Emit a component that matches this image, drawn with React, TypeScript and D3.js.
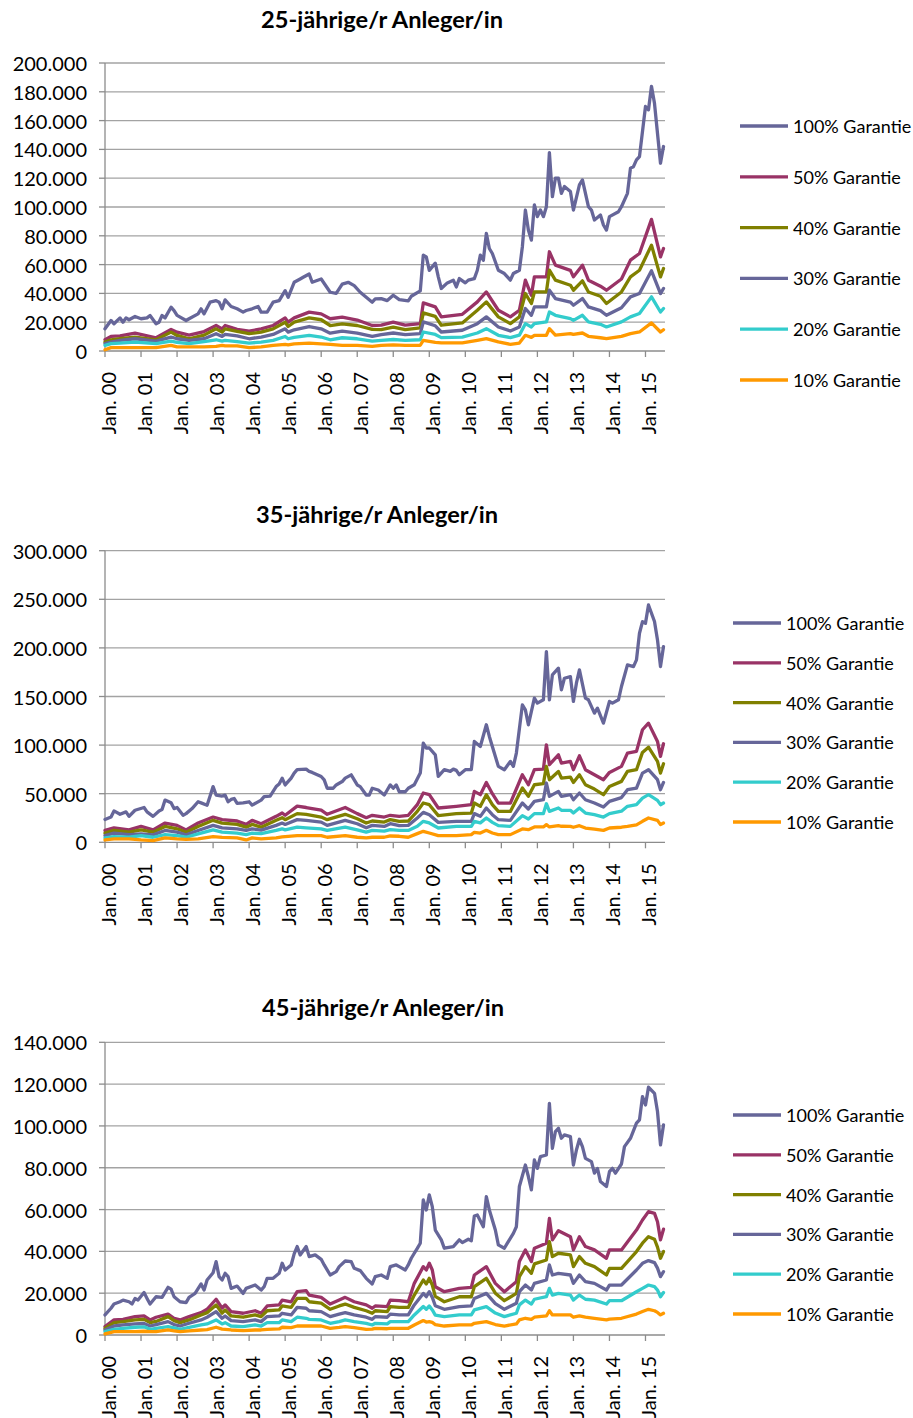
import React from 'react';
import * as d3 from 'd3';

// Monatsindex: 0 = Jan. 00 ... 186 = Jul. 15, Werte in Tausend
const yearLabels = ['Jan. 00', 'Jan. 01', 'Jan. 02', 'Jan. 03', 'Jan. 04', 'Jan. 05', 'Jan. 06', 'Jan. 07',
  'Jan. 08', 'Jan. 09', 'Jan. 10', 'Jan. 11', 'Jan. 12', 'Jan. 13', 'Jan. 14', 'Jan. 15'];
const seriesNames = ['100% Garantie', '50% Garantie', '40% Garantie', '30% Garantie', '20% Garantie', '10% Garantie'];
const seriesColors = ['#666699', '#993366', '#808000', '#666699', '#33cccc', '#ff9900'];

// 25-jährige/r
const months25 = [0,2,3,5,6,7,8,10,12,14,15,17,18,19,20,22,23,24,27,28,31,32,33,35,37,38,39,40,42,44,46,47,49,51,52,54,56,58,60,61,63,65,66,68,69,72,75,77,79,81,83,85,87,89,90,92,94,96,98,101,102,105,106,107,108,110,111,112,114,116,117,118,120,121,123,124,125,126,127,128,129,131,133,135,136,138,139,140,141,142,143,144,145,146,147,148,149,150,151,152,153,155,156,158,159,161,162,163,165,166,167,168,171,172,174,175,176,177,178,180,181,182,183,185,186];
const g100_25 = [15.4,21.2,18.9,23,20,23,21.7,24,22.4,23,24.7,18.9,20,24.7,23,30.4,28.1,24.7,21.2,22.4,25.8,29.3,25.8,33.9,35,33.9,29.3,35.5,30.9,29.3,27,28.1,29.3,30.9,27,27,33.9,35,41.9,37.3,47.7,50,51.2,53.5,47.7,50,40.8,40,46.5,47.7,45.4,40.8,37.3,33.9,36.2,36.4,35,38.7,35.7,34.8,38,41.8,66.6,65.4,56,61,51.5,43.4,47.3,49.2,44.5,50.3,47.3,49.2,50.3,56.1,66.6,63,81.7,71.2,67.7,56.1,53.8,49.2,53.8,56.1,72.4,97.9,84,77,101.4,93.3,97.9,93.3,100.2,137.8,107.2,120,120,109.5,114.2,110.7,97.9,115.3,118.8,100.2,97.9,91,94.4,87.5,84,93.3,96.7,100.2,109.5,127,128,132.7,135,169.8,167.5,183.8,172,130.4,142];
const monthsLow25 = [0,2,5,10,17,22,24,28,33,37,39,40,44,48,52,56,60,61,63,68,72,75,79,84,89,92,96,100,105,106,110,112,119,124,127,131,135,138,140,142,143,147,148,150,155,156,159,161,165,167,172,175,178,182,185,186];
const g50_25 = [7.8,10.1,10.5,12.4,9.2,15,13.1,11,13.5,17.7,15.4,17.7,15,13.8,15.4,17.7,23,20,23,27,25.8,22.4,23.5,21.5,17.7,17.9,20,17.9,19,33.4,30.6,23.7,25.5,34.1,41,28.3,23.7,28.3,49.2,38.7,51.5,51.5,68.9,59.6,56,51.5,59.6,49.2,45,42.2,50,63.1,67.7,91.4,65.4,71.2];
const g40_25 = [6.2,7.8,8.5,9.7,7.8,13.1,10.8,8.5,11,15.4,13.1,15.4,13.6,12,13.1,15.4,20,17,20,23,21.7,17.7,18.9,17.7,15,14.8,16.5,14.8,16,26.5,24,17.9,19.5,28.3,34.1,23.7,19,23.7,39.9,33,41,41,56.1,49.2,45.7,42.2,48.7,41,38,33,41,51.5,56.1,73.5,51.5,57.3];
const g30_25 = [5.1,6.2,7.4,8.5,6.9,9.7,8.5,7.4,8.5,12,10.1,11.5,10.5,8.5,9.7,11.5,15.4,13.1,14.7,17,15.4,12.4,13.8,12.4,10.1,11.4,12.5,11.4,12,20.2,17.5,13.2,14.4,19,23.7,16.7,13.9,16.7,29.5,24.8,30.6,30.6,42.2,36.4,34,31.8,36.4,30.6,28,24.8,30,37.6,39.9,55.7,39.9,43.4];
const g20_25 = [3.9,5.1,5.5,6.2,5.1,6.9,6,5.1,6.5,7.8,6.8,7.4,6.5,5.5,6.2,7.4,10.1,8.5,9.5,10.8,9.7,7.8,9.2,8.5,6.9,7.4,8,7.4,7.8,13.2,11.5,9.3,9.7,12.5,15.5,10.9,9.3,11,19,16.7,19,20.2,27.1,24.8,22.5,21.3,24.8,20.2,18.5,16.7,20.2,23.7,26,37.6,27.1,29.5];
const g10_25 = [0.9,2.3,2.3,2.3,2.3,3.9,2.8,2.8,2.8,3.2,3.9,3.5,3.5,2.3,2.8,3.9,4.6,4.2,5,5.5,5,4.6,3.9,3.9,3.2,3.9,4.2,3.9,4,7.4,6,5.6,5.6,7.4,8.6,6.3,4.6,5.5,10.9,9.5,10.9,10.9,15.5,11,12.1,11.5,12.5,10.2,9.2,8.6,10.2,12.1,13.2,19.5,13.2,14.8];

// 35-jährige/r
const months35 = [0,2,3,5,7,8,10,13,14,16,18,19,20,22,23,24,26,27,29,31,32,34,35,36,37,39,40,41,42,43,44,46,48,49,52,53,55,57,58,59,60,62,63,64,67,68,69,72,73,74,76,77,79,80,82,83,84,85,87,88,89,91,93,94,95,96,97,98,100,101,103,105,106,107,108,110,111,113,115,116,117,118,120,122,123,125,127,128,129,131,133,135,136,137,139,140,141,143,144,146,147,148,149,151,152,153,155,156,157,158,160,161,163,164,166,168,169,171,172,174,176,177,178,179,180,181,183,184,185,186];
const g100_35 = [23.5,26,32.3,28.8,31.3,26.7,33,35.8,31.3,26.7,32.3,33.7,43.4,40.6,34.7,35.8,27.8,29.5,34.7,41.7,40.6,38.2,47.6,57.3,48.6,47.6,48.6,41.7,44.1,45.1,40,40.6,41.7,38.2,43.4,46.9,47.6,57.3,60,66,59,66,71.2,74.7,75.3,72.9,71.9,67.7,64.2,55.6,55.6,59,62.5,66,69.4,64.2,59,57.3,48.6,48.6,55.6,53.8,48.6,53.8,59,55.6,59,52,52,55.6,59.2,71.2,102,97,97,90,67.8,74.7,73,75.3,74,69.5,74.7,74.7,103.8,98.6,120.9,108.9,98.6,78.1,74.7,83.2,78.1,91.8,141.4,136.3,120.9,148.3,143.2,146.6,196.2,146.6,172.3,179.1,156.8,168.8,170.5,144.9,163.7,177.4,148.3,146.6,132.9,138,122.6,144.9,143.2,146.6,160.3,182.5,180.8,187.7,215.1,227.1,225.3,244.2,227.1,208.2,180.8,201.4];
const monthsLow35 = [0,3,8,12,16,20,24,27,31,36,39,44,47,49,52,57,59,60,64,67,72,74,80,84,87,89,93,95,98,101,104,106,108,111,117,122,123,125,127,129,131,135,139,141,143,146,147,148,151,152,155,156,158,160,163,166,168,172,174,177,179,181,184,185,186];
const g50_35 = [12.2,14.9,12.8,16.3,12.8,19.8,17.4,12.8,19.8,26,23.3,21.9,18.4,22.6,19.1,26.7,30.2,27.8,37.2,35.8,33,28.8,35.8,29.5,25.3,27.8,26,27.8,26.7,27.8,38.7,50.7,49,35.3,37,38.7,52.4,49,61.6,50,40.4,40.4,69.5,59.2,74.7,75.3,100.3,79.8,90,81.5,83.2,74.7,89,74.7,69.5,64.4,71.9,78.1,91.8,93.5,115.8,122.6,103.8,88.4,101.4];
const g40_35 = [9.4,12.2,10.4,12.8,10.4,16.3,13.9,10.4,16.3,22.6,19.8,18.4,15.6,18.4,15.6,22.6,25.3,23.3,29.5,28.8,26,23.3,28.8,24.3,19.8,21.9,20.8,23.3,21.6,21.9,31.8,40.4,38.7,27.4,29.5,30.1,40.4,37,49,38.7,31.8,31.8,55.8,47.3,59.2,60.3,78.1,64.4,72.9,66.1,67.1,61.6,69.5,59.2,54.8,49,57.5,62.7,72.9,74.7,92.5,97.9,83.2,71.2,80.8];
const g30_35 = [6.9,9.4,8,8.7,7.6,12.2,10.4,7.6,12.2,17.4,14.9,13.9,12.2,13.9,12.5,17.4,19.8,18.4,23.3,22.6,20.8,17.4,22.6,19.1,14.9,17.4,16.3,19.2,17.1,17.4,25,30.8,28.4,20.5,21.6,21.6,29.5,26.7,35.3,28.4,23.3,22.6,40.4,34.2,42.1,43.8,61,47.3,52.4,47.3,49,43.8,50.7,43.8,40.4,36.3,42.1,46,54.1,55.8,71.2,74.7,64.4,54.1,61.6];
const g20_35 = [4.5,5.9,5.2,6.9,5.2,8,6.9,5.2,8.7,12.8,10.4,9.4,8,9.4,9,12.2,13.9,12.8,15.6,14.9,13.9,12.2,15.6,12.8,10.4,12.2,11.5,13,12.3,12.2,16.4,21.6,19.9,14.7,16.4,16.4,21.6,20,25,20.5,17.1,16.4,27.4,24,29.5,29.5,39.7,31.8,35.3,32.9,32.9,30.1,35.3,30.1,28.4,26,29.5,32,37,38.7,45.5,49,43.2,38.7,40.4];
const g10_35 = [2.4,3.5,3.5,2.4,1.7,4.5,3.5,3,3.5,5.9,5,4.5,2.4,4.5,3.5,4.5,5.5,5.9,6.9,6.9,6.9,5.2,6.9,5.2,4.5,5.2,5.2,6.5,6.2,5.2,8.9,11.3,9.6,6.8,6.8,7.9,10.3,9.5,12.3,9.6,7.9,7.9,13.7,13,15.8,15.8,18.2,15.8,17.1,16.5,16.4,15.5,17.1,14.7,13.5,12.3,14.7,15.5,16.4,18,21.6,25,22.6,18.2,19.9];

// 45-jährige/r
const months45 = [0,2,3,5,6,8,9,10,11,13,14,15,17,19,21,22,23,25,27,28,30,32,33,34,36,37,38,39,40,41,42,44,46,47,50,52,53,54,56,58,59,60,62,63,64,65,67,68,70,72,73,75,77,78,80,82,83,85,87,89,90,92,94,95,97,98,100,101,102,103,104,105,106,107,108,109,110,112,113,116,118,119,121,122,123,124,126,127,128,130,131,133,134,136,137,138,140,141,142,143,144,145,147,148,149,150,151,152,153,155,156,157,158,159,160,162,163,164,165,167,168,169,170,172,173,175,177,178,179,180,181,183,184,185,186];
const g100_45 = [9.6,12.8,14.8,15.9,16.7,15.9,14.8,17.5,16.7,20.3,17.5,14.8,18.3,18,22.8,21.9,18.3,15.9,15.5,18,19.9,24.4,21.5,26.3,29.8,35.1,27.9,26.3,29.5,27.9,22.3,23.4,19.9,22.3,23.9,21.5,23.1,27.1,27.1,29.5,34.3,31.1,33.5,38.8,42.3,38.3,42.3,37.5,38.3,36.2,33.5,28.7,30.3,32.7,35.4,35.1,31.9,30.8,27.1,24.4,27.9,28.7,27.1,32.7,33.5,32.7,31.1,33.5,36.7,39.1,41.4,43.9,64.6,59.8,67,61.4,50.2,45.5,41.5,42.3,45.5,44.2,45.8,45.1,56.9,57.4,51.8,66.2,59.8,50.2,43.1,41.5,43.9,48.6,51.8,71,81.3,75.8,69.4,83.7,79.7,85.3,86.1,110.8,89.3,97.3,98.9,94.1,95.7,94.9,81.3,88.5,93.6,90.1,84.5,82.9,77.4,79.7,73.4,71,78.1,79.7,77.4,81.8,90.1,94.1,101.3,102.9,114,110,118.5,115.6,106.9,90.9,100.5];
const monthsLow45 = [0,3,6,10,13,15,17,21,23,25,28,32,34,37,39,40,42,46,50,52,54,58,59,62,64,67,68,72,75,78,80,83,87,89,90,94,95,98,101,103,106,107,108,109,110,113,118,122,123,127,130,133,137,138,140,142,143,147,148,149,151,155,156,158,160,163,167,168,172,177,179,181,183,184,185,186];
const g50_45 = [4,7.2,7.5,8.8,9.1,7.2,8.5,10,8,7.2,8.8,10.7,12.3,17.1,12.8,14.4,11.2,10.4,11.6,10.4,13.9,14.4,16.7,15.9,20.7,21.2,19.1,18,14.8,16.7,18,15.9,14.4,12.8,13.9,13.6,16.7,16.4,15.9,24.7,32.7,31.1,34.3,31.1,23.1,20.7,22.3,22.8,28.7,32.7,24.7,20.7,25.5,35.1,40.7,35.1,41.5,43.9,55.8,45.5,49.9,47,40.7,47,42.3,40.7,36.7,40.7,40.7,50.2,55,59,58.2,54.2,45.5,50.6];
const g40_45 = [3.2,5.9,6.4,7.2,7.5,5.9,6.5,8.8,6.9,5.9,7.2,9.6,10.7,14.4,10.4,12,9.1,8.5,9.6,8.8,11.6,12,13.9,13.2,17.5,17.5,15.9,15.2,12.3,13.9,14.8,13.2,11.6,10.4,11.6,11.2,13.6,13.2,13.2,19.1,26.3,24.4,27.1,23.9,18.5,15.9,18.3,18.3,23.1,27.1,20,16.4,19.9,27.9,32.7,29.5,34,35.9,44.7,37.5,39.1,38.3,32.7,37.5,34.3,32.7,28.7,31.9,31.9,39.9,43.9,47,45.8,42,36.7,39.9];
const g30_45 = [2.4,4.3,4.8,5.3,5.5,4.3,5,6.4,5,4.3,5.6,7.2,8.5,11.2,8,9.1,6.9,6.4,7.2,6.4,8.8,9.1,10.4,9.6,13.2,12.8,11.6,11.2,8.8,10,10.7,9.6,8.5,7.5,8.8,8.5,10,9.6,9.6,14.4,19.9,18.3,20.7,18,14,12.3,13.6,13.9,17.5,19.9,15,12.3,15.2,20.7,23.9,21.5,24.7,26.3,33.5,28.7,29.5,28.7,24.7,28.7,25.5,24.7,21.5,23.9,23.9,31.1,34.3,35.6,34.6,32,27.9,30.3];
const g20_45 = [1.6,2.7,3.2,3.7,3.9,2.7,3.2,4,3.4,2.7,3.7,4.8,5.3,7.2,5.3,5.9,4.3,4,4.8,4.3,5.9,5.9,7.2,6.4,8.5,8,7.5,7.2,5.6,6.4,7.2,6.4,5.6,4.8,5.6,5.3,6.4,6.4,6.4,9.6,13.6,12.3,13.9,12,9.5,8.8,9.6,9.6,12,13.6,10.5,8.8,10.4,14.4,16.7,14.8,17.1,18.3,22.3,19.1,19.9,19.1,16.7,19.1,17.1,16.7,14.8,16.4,16.4,20.7,22.3,23.9,23.1,21.5,18.3,20.3];
const g10_45 = [0.5,1.6,1.6,1.6,1.8,1.6,1.6,2.4,2,1.6,2,2.4,2.6,3.7,2.8,2.7,2.4,2.1,2.4,2.4,2.7,2.9,3.7,3.5,4.3,4.3,4.3,4.3,3.2,3.6,4,3.5,2.7,2.8,3.2,3,3.2,3.2,3.2,4.8,6.9,6.2,6.4,6,5,4.3,4.8,4.8,5.6,6.4,5,4.3,5.3,7.2,8,7.5,8.5,9.1,11.6,9.6,9.6,9.6,8.5,9.1,8.5,8,7.2,7.6,8,10,11.2,12.3,11.6,10.8,9.6,10.4];

const panels = [
  { title: '25-jährige/r Anleger/in', titleX: 382, titleY: 28, top: 63, bottom: 351, yMax: 200, yStep: 20,
    legendX: 740, legendY: 126, legendGap: 50.8,
    months: months25, main: g100_25, monthsLow: monthsLow25, low: [g50_25, g40_25, g30_25, g20_25, g10_25] },
  { title: '35-jährige/r Anleger/in', titleX: 377, titleY: 523, top: 550.7, bottom: 842.3, yMax: 300, yStep: 50,
    legendX: 733, legendY: 623, legendGap: 39.8,
    months: months35, main: g100_35, monthsLow: monthsLow35, low: [g50_35, g40_35, g30_35, g20_35, g10_35] },
  { title: '45-jährige/r Anleger/in', titleX: 383, titleY: 1016, top: 1042.3, bottom: 1335, yMax: 140, yStep: 20,
    legendX: 733, legendY: 1115, legendGap: 39.8,
    months: months45, main: g100_45, monthsLow: monthsLow45, low: [g50_45, g40_45, g30_45, g20_45, g10_45] },
];

const de = d3.formatLocale({ decimal: ',', thousands: '.', grouping: [3], currency: ['', ' €'] });
const fmt = de.format(',');
const FONT = 'Lato, "Open Sans", sans-serif';

function Panel({ p }) {
  if (p.months.length !== p.main.length) throw new Error(p.title + ' main ' + p.months.length + ' vs ' + p.main.length);
  p.low.forEach((s, i) => {
    if (s.length !== p.monthsLow.length) throw new Error(p.title + ' low ' + i + ': ' + s.length + ' vs ' + p.monthsLow.length);
  });

  const x = d3.scaleLinear().domain([0, 186.5]).range([105, 665]);
  const y = d3.scaleLinear().domain([0, p.yMax]).range([p.bottom, p.top]);
  const yTicks = d3.range(0, p.yMax + p.yStep / 2, p.yStep);

  const series = [
    p.months.map((m, i) => [m, p.main[i]]),
    ...p.low.map((s) => p.monthsLow.map((m, i) => [m, s[i]])),
  ];
  const line = d3.line().x((d) => x(d[0])).y((d) => y(d[1]));

  return (
    <g>
      <text x={p.titleX} y={p.titleY} textAnchor="middle" fontFamily={FONT} fontWeight="bold" fontSize={22}
        textLength={242} lengthAdjust="spacingAndGlyphs">{p.title}</text>
      {yTicks.map((t) => (
        <g key={t}>
          {t > 0 && <line x1={105} x2={665} y1={y(t)} y2={y(t)} stroke="#a3a3a3" strokeWidth={1.3} />}
          <line x1={99} x2={105} y1={y(t)} y2={y(t)} stroke="#8c8c8c" strokeWidth={1.3} />
          <text x={87} y={y(t)} textAnchor="end" dominantBaseline="central" fontFamily={FONT} fontSize={20}>
            {t === 0 ? '0' : fmt(t * 1000)}
          </text>
        </g>
      ))}
      <line x1={105} x2={105} y1={p.top} y2={p.bottom} stroke="#8c8c8c" strokeWidth={1.3} />
      <line x1={105} x2={665} y1={p.bottom} y2={p.bottom} stroke="#8c8c8c" strokeWidth={1.3} />
      {yearLabels.map((lab, i) => {
        const xx = x(i * 12);
        return (
          <g key={lab}>
            <line x1={xx} x2={xx} y1={p.bottom} y2={p.bottom + 6} stroke="#8c8c8c" strokeWidth={1.3} />
            <text transform={`translate(${xx + 3},${p.bottom + 21}) rotate(-90)`} textAnchor="end"
              dominantBaseline="central" fontFamily={FONT} fontSize={20}>{lab}</text>
          </g>
        );
      })}
      {series.map((s, i) => (
        <path key={i} d={line(s)} fill="none" stroke={seriesColors[i]} strokeWidth={3.3}
          strokeLinejoin="round" strokeLinecap="round" />
      ))}
      {seriesNames.map((n, i) => {
        const ly = p.legendY + i * p.legendGap;
        return (
          <g key={n}>
            <line x1={p.legendX} x2={p.legendX + 48} y1={ly} y2={ly} stroke={seriesColors[i]} strokeWidth={3.3} />
            <text x={p.legendX + 53} y={ly} dominantBaseline="central" fontFamily={FONT} fontSize={18}>{n}</text>
          </g>
        );
      })}
    </g>
  );
}

export default function App() {
  return (
    <svg width={913} height={1418} style={{ position: 'absolute', left: 0, top: 0, background: '#fff' }}>
      {panels.map((p) => <Panel key={p.title} p={p} />)}
    </svg>
  );
}
